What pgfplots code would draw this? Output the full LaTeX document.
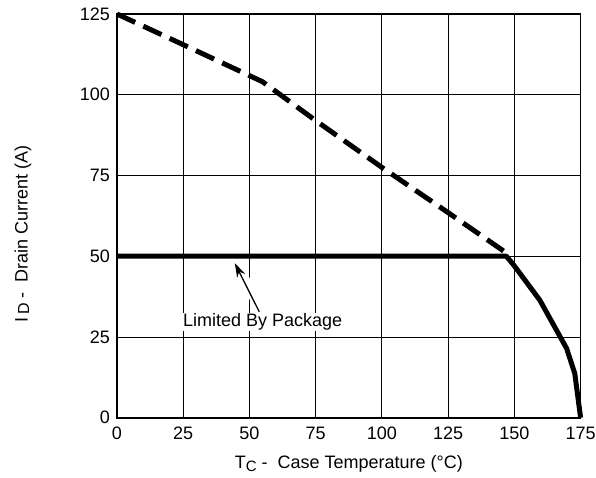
\documentclass[border=0pt]{standalone}
\usepackage{pgfplots}
\pgfplotsset{compat=1.18}
\usetikzlibrary{arrows.meta}
\usepackage{fontspec}
\setmainfont{Liberation Sans}
\begin{document}
\fontsize{18}{21}\selectfont
\begin{tikzpicture}
\path[use as bounding box] (-117pt,-59.3pt) rectangle (479pt,417.7pt);
\begin{axis}[
  at={(0,0)}, anchor=south west,
  scale only axis, width=463.6pt, height=403.7pt,
  xmin=0, xmax=175, ymin=0, ymax=125,
  xtick={0,25,...,175}, ytick={0,25,...,125},
  grid=major, major grid style={black, line width=0.9pt},
  axis line style={line width=1.6pt},
  tick style={draw=none},
  /pgf/number format/assume math mode=true,
  ticklabel style={font=\fontsize{18}{21}\selectfont},
  xticklabel style={yshift=-3pt},
  yticklabel style={xshift=-1pt},
  xlabel={T\raisebox{-0.3ex}{\fontsize{15}{18}\selectfont C} -\ \ Case Temperature (°C)},
  ylabel={I\,\raisebox{-0.15ex}{\fontsize{16}{18}\selectfont D} -\ \ Drain Current (A)},
  xlabel style={at={([yshift=-46pt]axis description cs:0.5,0)}, anchor=center, font=\fontsize{18}{21}\selectfont},
  ylabel style={at={([xshift=-94pt]axis description cs:0,0.455)}, anchor=center, font=\fontsize{18}{21}\selectfont},
  clip=false,
]
\addplot[black, line width=5pt, dash pattern=on 20pt off 9pt, line join=round] coordinates {
  (0,125) (25,115.5) (55,104) (75,92) (100,77.5) (125,63.5) (147,51)
};
\addplot[black, line width=5pt, line join=round] coordinates {
  (0,50) (147,50) (150,47) (159.6,36.4) (169.7,21.5) (172.8,13.7) (175,0)
};
\draw[white, line width=9pt] (axis cs:52.5,35.5) -- (axis cs:47.5,44.5);
\node[fill=white, inner sep=1pt, font=\fontsize{18}{21}\selectfont] (lbl) at (axis cs:55,29.6) {Limited By Package};
\draw[-{Stealth[length=14pt,width=9pt]}, line width=1.3pt] (axis cs:53.7,32.8) -- (axis cs:44.5,47.8);
\end{axis}
\end{tikzpicture}
\end{document}
